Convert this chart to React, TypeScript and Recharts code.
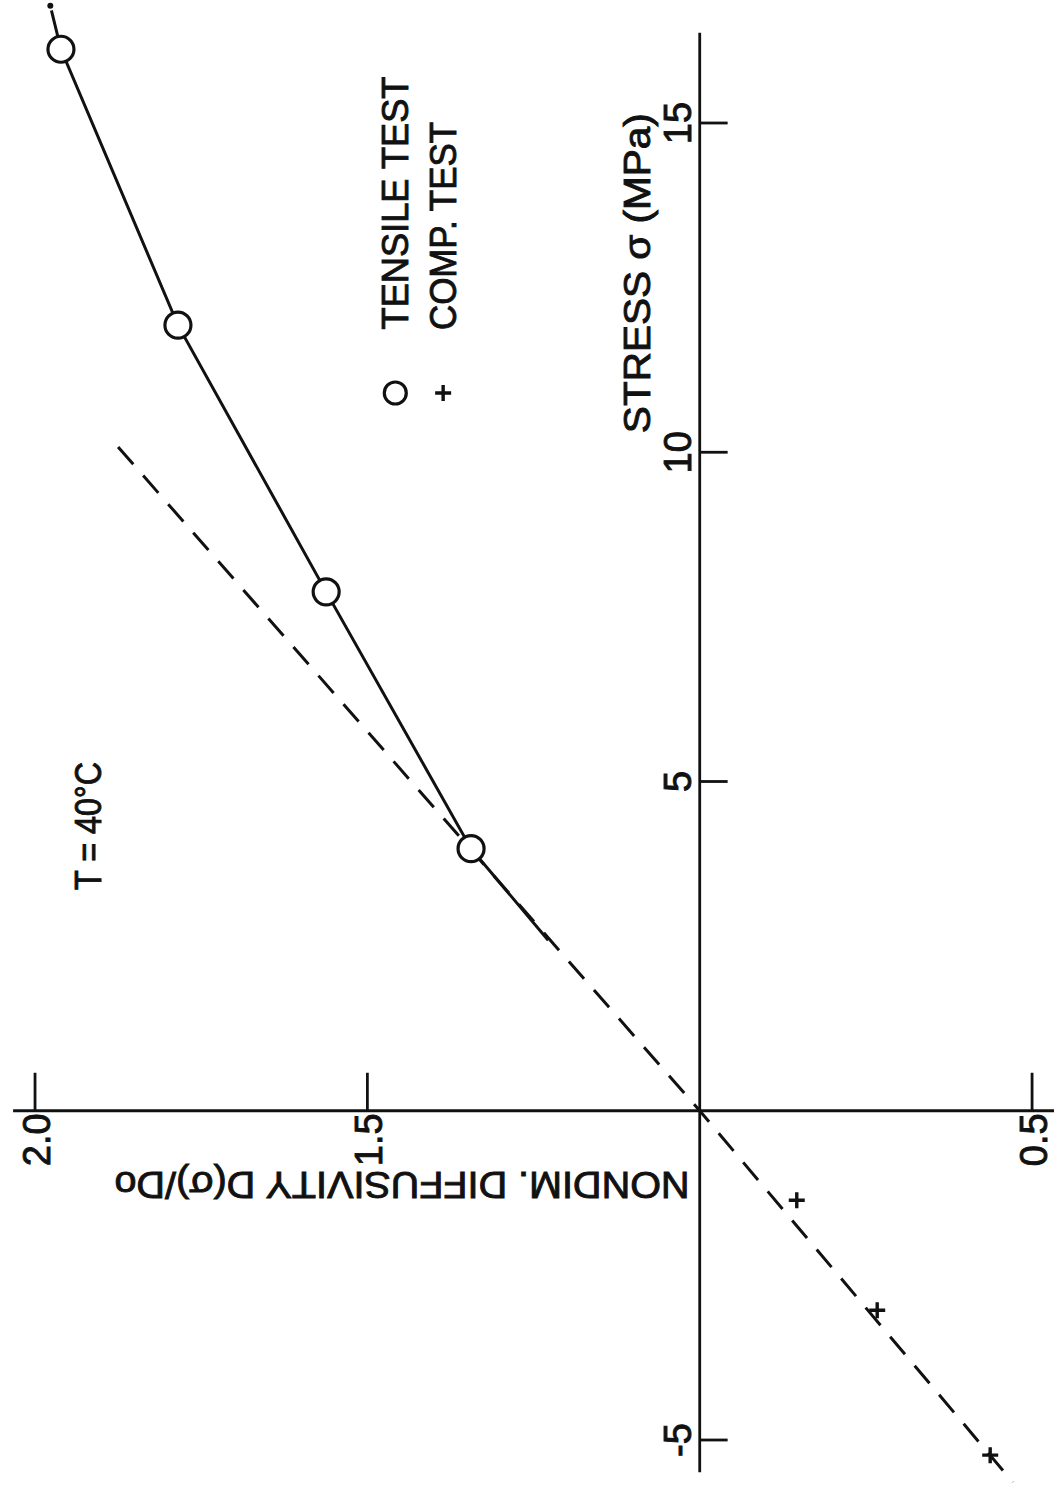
import React from "react";
import {
  ComposedChart,
  XAxis,
  YAxis,
  Line,
  Scatter,
  ReferenceLine,
  ReferenceDot,
} from "recharts";

// Stress σ (MPa) vs nondim. diffusivity D(σ)/D0 at T = 40°C.
// The figure is printed sideways: diffusivity runs left -> right (2.0 -> 0.5),
// stress runs bottom -> top (-5 -> 15).

// tensile test (circles)
const tensileStress = [16.12, 11.93, 7.88, 3.98];
const tensileDiff = [1.961, 1.785, 1.562, 1.344];

// compression test (plus marks)
const compStress = [-1.36, -3.03, -5.23];
const compDiff = [0.854, 0.733, 0.563];

// solid curve drawn through the tensile points
const curveStress = [16.78, 16.12, 11.93, 7.88, 3.98, 2.59];
const curveDiff = [1.977, 1.961, 1.785, 1.562, 1.344, 1.228];

// dashed straight line
const fitStress = [10.08, 0, -5.64];
const fitDiff = [1.875, 1.0, 0.529];

const stressTicks = [-5, 5, 10, 15];
const diffTicks = [2.0, 1.5, 0.5];

const W = 1055;
const H = 1494;
const D_MIN = 0.4655;
const D_MAX = 2.0527;
const S_MIN = -5.82;
const S_MAX = 16.868;

const INK = "#111";
const FONT = '"Liberation Sans", Arial, sans-serif';
const NARROW = '"Liberation Sans Narrow", "Liberation Sans", Arial, sans-serif';

const zip = (ds: number[], ss: number[]) => ds.map((d, i) => ({ d, s: ss[i] }));

// text rotated so it reads bottom -> top
function upText(
  x: number,
  y: number,
  str: string,
  size: number,
  len?: number,
  family = FONT
) {
  return (
    <text
      x={x}
      y={y}
      transform={`rotate(-90 ${x} ${y})`}
      textAnchor="middle"
      dominantBaseline="central"
      fontFamily={family}
      fontSize={size}
      fill={INK}
      stroke={INK}
      strokeWidth={0.9}
      textLength={len}
      lengthAdjust={len ? "spacingAndGlyphs" : undefined}
    >
      {str}
    </text>
  );
}

const Circle = (p: any) => (
  <circle cx={p.cx} cy={p.cy} r={13} fill="#fff" stroke={INK} strokeWidth={3.2} />
);

const Plus = (p: any) => (
  <path
    d={`M${p.cx - 8},${p.cy}H${p.cx + 8}M${p.cx},${p.cy - 8}V${p.cy + 8}`}
    stroke={INK}
    strokeWidth={3.4}
    fill="none"
  />
);

export default function App() {
  const tensile = zip(tensileDiff, tensileStress);
  const comp = zip(compDiff, compStress);
  const curve = zip(curveDiff, curveStress);
  const fit = zip(fitDiff, fitStress);

  const axisProps = { stroke: INK, strokeWidth: 2.8, ifOverflow: "visible" as const };

  return (
    <div
      style={{
        position: "absolute",
        left: 0,
        top: 0,
        width: W,
        height: H,
        background: "#fff",
      }}
    >
      <ComposedChart
        width={W}
        height={H}
        margin={{ top: 0, right: 0, bottom: 0, left: 0 }}
      >
        <XAxis
          type="number"
          dataKey="d"
          domain={[D_MIN, D_MAX]}
          reversed
          hide
          allowDataOverflow
        />
        <YAxis
          type="number"
          dataKey="s"
          domain={[S_MIN, S_MAX]}
          hide
          allowDataOverflow
        />

        {/* axes crossing at (1.0, 0) */}
        <ReferenceLine
          segment={[
            { x: 2.033, y: 0 },
            { x: 0.467, y: 0 },
          ]}
          {...axisProps}
        />
        <ReferenceLine
          segment={[
            { x: 1.0, y: 16.37 },
            { x: 1.0, y: -5.49 },
          ]}
          {...axisProps}
        />
        {diffTicks.map((t) => (
          <ReferenceLine
            key={`dt${t}`}
            segment={[
              { x: t, y: 0 },
              { x: t, y: 0.577 },
            ]}
            {...axisProps}
          />
        ))}
        {stressTicks.map((t) => (
          <ReferenceLine
            key={`st${t}`}
            segment={[
              { x: 1.0, y: t },
              { x: 0.958, y: t },
            ]}
            {...axisProps}
          />
        ))}

        {/* tick labels */}
        {diffTicks.map((t) => (
          <ReferenceDot
            key={`dl${t}`}
            x={t}
            y={0}
            r={0}
            ifOverflow="visible"
            shape={(p: any) => upText(p.cx + 2, p.cy + 29, t.toFixed(1), 38, undefined, NARROW)}
          />
        ))}
        {stressTicks.map((t) => (
          <ReferenceDot
            key={`sl${t}`}
            x={1.0}
            y={t}
            r={0}
            ifOverflow="visible"
            shape={(p: any) => upText(p.cx - 22, p.cy, String(t), 38, undefined, NARROW)}
          />
        ))}

        {/* series */}
        <Line
          data={fit}
          dataKey="s"
          type="linear"
          stroke={INK}
          strokeWidth={3}
          strokeDasharray="23 15"
          dot={false}
          isAnimationActive={false}
        />
        <Line
          data={curve}
          dataKey="s"
          type="linear"
          stroke={INK}
          strokeWidth={3}
          dot={false}
          isAnimationActive={false}
        />
        <Scatter data={tensile} shape={Circle} isAnimationActive={false} />
        <Scatter data={comp} shape={Plus} isAnimationActive={false} />

        {/* annotations */}
        <ReferenceDot
          x={1.919}
          y={4.325}
          r={0}
          shape={(p: any) => upText(p.cx, p.cy, "T = 40°C", 36, 128)}
        />
        <ReferenceDot
          x={1.094}
          y={12.72}
          r={0}
          shape={(p: any) => upText(p.cx, p.cy, "STRESS σ (MPa)", 36, 320)}
        />
        <ReferenceDot
          x={1.448}
          y={-1.127}
          r={0}
          shape={(p: any) => (
            <text
              x={p.cx}
              y={p.cy}
              transform={`rotate(180 ${p.cx} ${p.cy})`}
              textAnchor="middle"
              dominantBaseline="central"
              fontFamily={FONT}
              fontSize={36}
              fill={INK}
              stroke={INK}
              strokeWidth={0.9}
              textLength={575}
              lengthAdjust="spacingAndGlyphs"
            >
              NONDIM. DIFFUSIVITY  D(σ)/Do
            </text>
          )}
        />

        {/* legend */}
        <ReferenceDot
          x={1.458}
          y={10.9}
          r={0}
          shape={(p: any) => (
            <g>
              <circle cx={p.cx} cy={p.cy} r={11} fill="#fff" stroke={INK} strokeWidth={3.2} />
              {upText(p.cx, p.cy - 190, "TENSILE TEST", 36, 253)}
            </g>
          )}
        />
        <ReferenceDot
          x={1.386}
          y={10.9}
          r={0}
          shape={(p: any) => (
            <g>
              <Plus cx={p.cx} cy={p.cy} />
              {upText(p.cx, p.cy - 167, "COMP. TEST", 36, 208)}
            </g>
          )}
        />
      </ComposedChart>
    </div>
  );
}
